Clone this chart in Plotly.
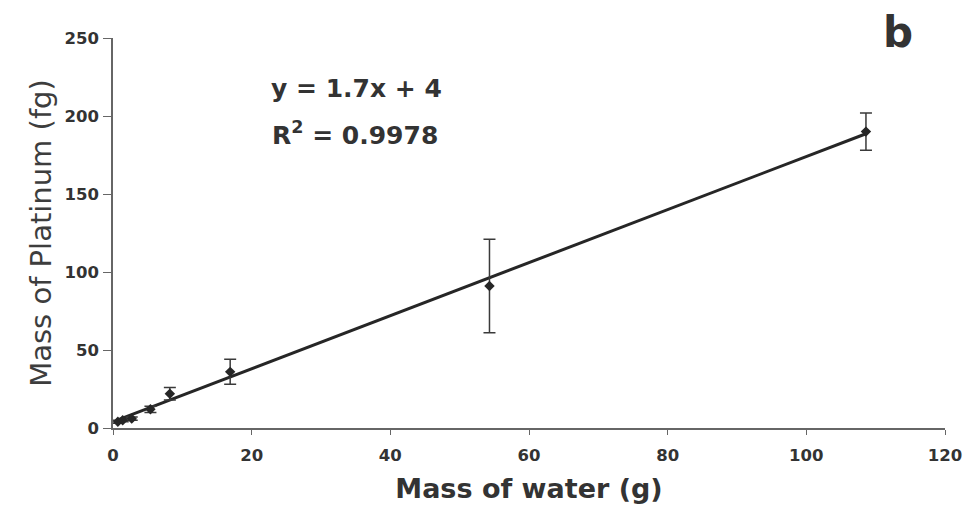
import plotly.graph_objects as go

water_g = [0.7, 1.4, 2.7, 5.4, 8.2, 16.9, 54.3, 108.6]
platinum_fg = [4, 5, 6, 12, 22, 36, 91, 190]
platinum_err = [1, 1, 1, 2, 4, 8, 30, 12]

# linear fit shown on the chart
slope = 1.7
intercept = 4
fit_x = [min(water_g), max(water_g)]
fit_y = [slope * x + intercept for x in fit_x]

ink = '#262626'
txt = '#333333'
font = 'DejaVu Sans, Arial, sans-serif'

W, H = 966, 506
L, R, T, B = 113, 21, 38, 78

fig = go.Figure()
fig.add_trace(go.Scatter(
    x=fit_x, y=fit_y, mode='lines',
    line=dict(color=ink, width=3), showlegend=False))
fig.add_trace(go.Scatter(
    x=water_g, y=platinum_fg, mode='markers',
    marker=dict(color=ink, size=8, symbol='diamond'),
    error_y=dict(type='data', array=platinum_err, color='#3a3a3a',
                 thickness=1.5, width=6),
    showlegend=False))


def px(x, y):
    # pixel -> paper coords
    return (x - L) / (W - L - R), (H - B - y) / (H - T - B)


notes = [
    ('y = 1.7x + 4', 356, 88, 25),
    ('R<sup>2</sup> = 0.9978', 355, 133, 25),
    ('b', 898, 32, 42),
]
annotations = []
for text, x, y, size in notes:
    ax, ay = px(x, y)
    annotations.append(dict(
        x=ax, y=ay, xref='paper', yref='paper', text=text,
        xanchor='center', yanchor='middle', showarrow=False,
        font=dict(size=size, color=txt, weight='bold')))

fig.update_layout(
    width=W, height=H,
    margin=dict(l=L, r=R, t=T, b=B, autoexpand=False),
    plot_bgcolor='white', paper_bgcolor='white',
    font=dict(family=font, color=txt),
    xaxis=dict(range=[0, 120], dtick=20, showgrid=False, zeroline=False,
               showline=True, linecolor='#666', linewidth=1.5,
               ticks='outside', ticklen=5, tickcolor='#666',
               ticklabelstandoff=6, automargin=False,
               ticklabeloverflow='allow',
               tickfont=dict(size=16.5, color=txt, weight='bold'),
               title=dict(text='Mass of water (g)', standoff=16,
                          font=dict(size=27, color=txt, weight='bold'))),
    yaxis=dict(range=[0, 250], dtick=50, showgrid=False, zeroline=False,
               showline=True, linecolor='#666', linewidth=1.5,
               ticks='outside', ticklen=8, tickcolor='#666',
               ticklabelstandoff=1, automargin=False,
               tickfont=dict(size=16.5, color=txt, weight='bold'),
               title=dict(text='Mass of Platinum (fg)', standoff=4,
                          font=dict(size=29, color='#3d3d3d'))),
    annotations=annotations,
)

# drop the default 8px body margin so the figure fills the window
fig.write_html("out.html", config={'displayModeBar': False},
               post_script="document.body.style.margin = '0';")
